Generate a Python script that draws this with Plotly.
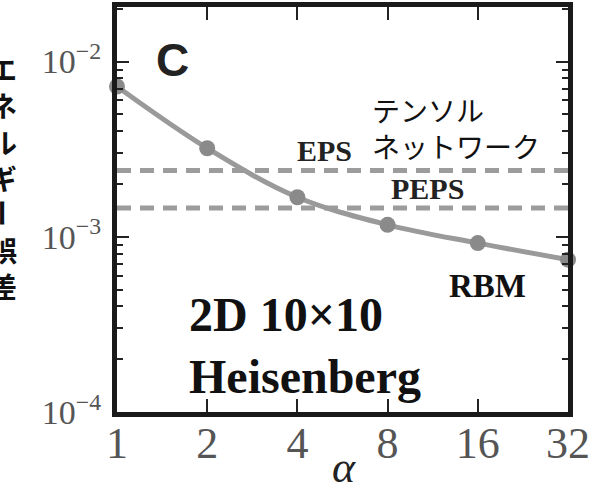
import plotly.graph_objects as go

alpha = [1, 2, 4, 8, 16, 32]
rbm_err = [7.2e-3, 3.2e-3, 1.68e-3, 1.17e-3, 9.2e-4, 7.4e-4]
eps_err = 2.39e-3
peps_err = 1.46e-3
x_ticks = [1, 2, 4, 8, 16, 32]
y_ticks = [1e-4, 1e-3, 1e-2]
y_ticktext = ["10<sup>−4</sup>", "10<sup>−3</sup>", "10<sup>−2</sup>"]
y_minor = [m * 10.0 ** e for e in (-4, -3, -2) for m in range(2, 10)]

fig = go.Figure()
for val in (eps_err, peps_err):
    fig.add_trace(go.Scatter(x=[1, 32], y=[val, val], mode="lines",
                             line=dict(color="#9c9c9c", width=5, dash="14px,9px"),
                             showlegend=False, hoverinfo="skip"))
fig.add_trace(go.Scatter(x=alpha, y=rbm_err, mode="lines+markers",
                         line=dict(color="#9a9a9a", width=5, shape="spline"),
                         marker=dict(color="#8a8a8a", size=16),
                         showlegend=False, cliponaxis=False))

serif = "Liberation Serif"
fig.update_layout(
    width=591, height=498,
    margin=dict(l=117, r=23, t=7, b=86),
    paper_bgcolor="white", plot_bgcolor="white",
    xaxis=dict(type="log", range=[0, 1.50515], tickvals=x_ticks,
               ticktext=[str(v) for v in x_ticks], automargin=False,
               ticks="inside", ticklen=13, tickwidth=2, tickcolor="#222",
               showline=True, linewidth=5, linecolor="#1a1a1a", mirror="allticks",
               showgrid=False, zeroline=False, ticklabelstandoff=-12,
               tickfont=dict(family=serif, size=44, color="#555")),
    yaxis=dict(type="log", range=[-4, -1.689], tickvals=y_ticks, ticktext=y_ticktext,
               automargin=False,
               ticks="inside", ticklen=12, tickwidth=2, tickcolor="#222",
               minor=dict(tickvals=y_minor, ticks="inside", ticklen=6, tickwidth=2,
                          tickcolor="#222", showgrid=False),
               showline=True, linewidth=5, linecolor="#1a1a1a", mirror="allticks",
               showgrid=False, zeroline=False, ticklabelstandoff=4,
               tickfont=dict(family=serif, size=34, color="#555")),
)

def ann(text, x, y, size, family, color="#111", xanchor="center", align="center", angle=0):
    fig.add_annotation(text=text, x=x, y=y, xref="paper", yref="paper",
                       showarrow=False, xanchor=xanchor, yanchor="middle", align=align,
                       textangle=angle, font=dict(family=family, size=size, color=color))

W, H = 451, 405
def px(xp):
    return (xp - 117) / W
def py(yp):
    return (412 - yp) / H

ann("<i>α</i>", px(344), py(468), 44, serif, "#222")
ann("<b>C</b>", px(172), py(60), 46, "Liberation Sans", "#222")
ann("テンソル<br>ネットワーク", px(370), py(128), 28, "Noto Sans CJK JP", "#111",
    xanchor="left", align="left")
ann("<b>EPS</b>", px(324), py(150), 30, serif, "#222")
ann("<b>PEPS</b>", px(427), py(188), 30, serif, "#222")
ann("<b>RBM</b>", px(487), py(286), 33, serif, "#111")
ann("<b>2D 10×10<br>Heisenberg</b>", px(187), py(345), 48, serif, "#111",
    xanchor="left", align="left")
cjk = "Noto Sans CJK JP"
ann("<b>エ<br>ネ<br>ル<br>ギ</b>", px(3), py(124), 28, cjk, "#111")
ann("<b>ー</b>", px(3), py(213), 28, cjk, "#111", angle=90)
ann("<b>誤<br>差</b>", px(3), py(268), 28, cjk, "#111")

fig.write_html("out.html")
